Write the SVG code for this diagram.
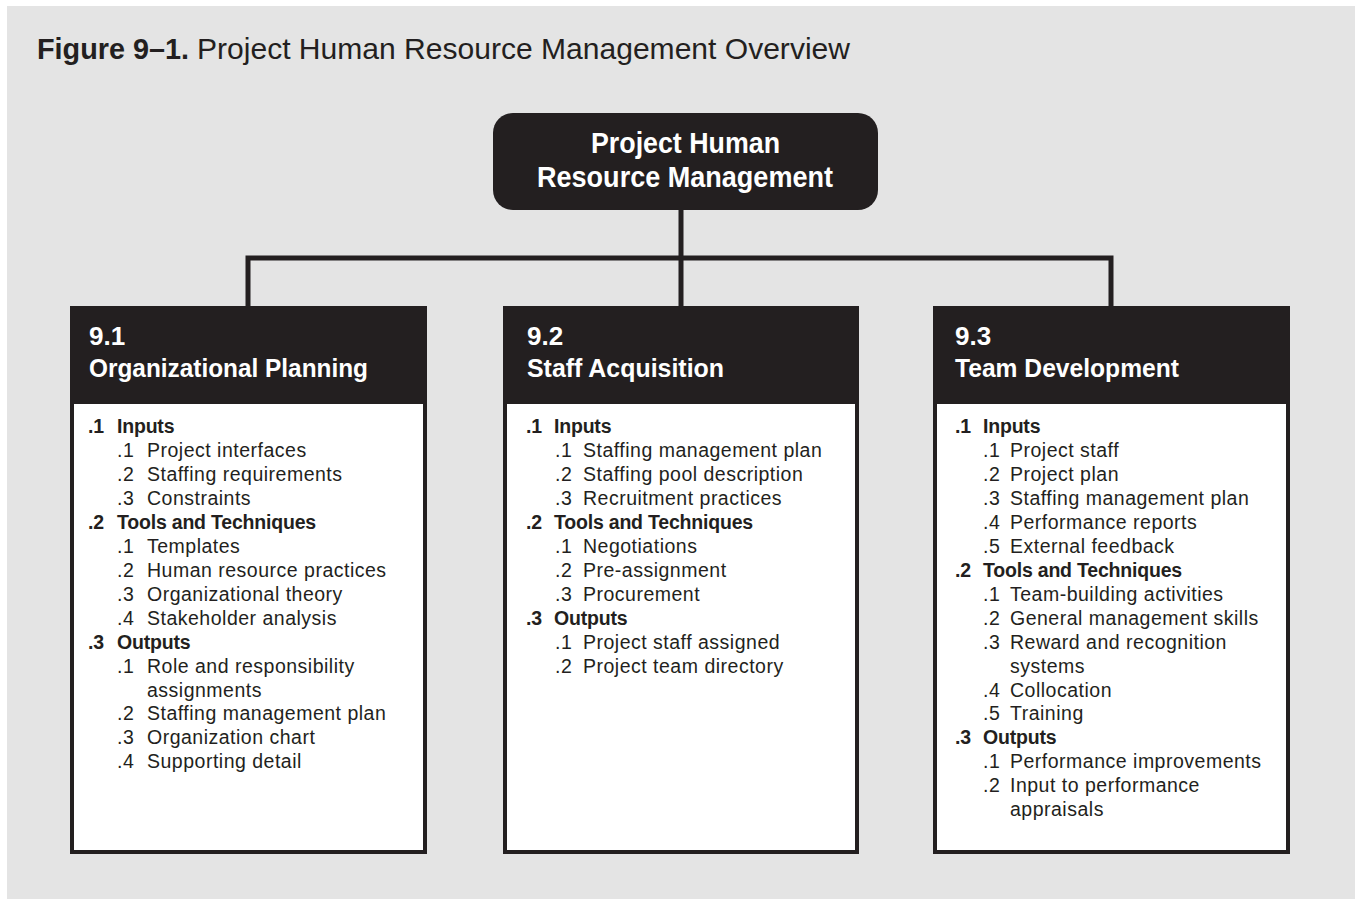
<svg xmlns="http://www.w3.org/2000/svg" width="1355" height="899" viewBox="0 0 1355 899">
<style>
.bg{fill:#e4e4e4}
.dark{fill:#231f20}
.inner{fill:#ffffff}
.conn{fill:none;stroke:#231f20;stroke-width:5}
.title{font-family:"Liberation Sans",Arial,sans-serif;font-size:30px;fill:#231f20}
.hd{font-family:"Liberation Sans Narrow","Liberation Sans",Arial,sans-serif;font-weight:bold;fill:#ffffff}
.top{font-size:29px}
.box{font-size:26px}
.r{font-family:"Liberation Sans",Arial,sans-serif;font-size:19.5px;letter-spacing:0.5px;fill:#231f20}
.b{font-family:"Liberation Sans",Arial,sans-serif;font-size:19.5px;font-weight:bold;letter-spacing:-0.2px;fill:#231f20}
</style>
<rect class="bg" x="7" y="6" width="1348" height="893"/>
<g id="title">
<text class="title" x="37" y="59" font-weight="bold" textLength="152" lengthAdjust="spacingAndGlyphs">Figure 9–1.</text>
<text class="title" x="197" y="59" textLength="653" lengthAdjust="spacingAndGlyphs">Project Human Resource Management Overview</text>
</g>
<g id="connectors">
<path class="conn" d="M681,210 V306"/>
<path class="conn" d="M248,306 V258 H1111 V306"/>
</g>
<g id="root">
<rect class="dark" x="493" y="113" width="385" height="97" rx="20" ry="20"/>
<text class="hd top" x="591" y="153" textLength="189" lengthAdjust="spacingAndGlyphs">Project Human</text>
<text class="hd top" x="537" y="187" textLength="296" lengthAdjust="spacingAndGlyphs">Resource Management</text>
</g>
<g id="n91">
<rect class="dark" x="70" y="306" width="357" height="548"/>
<rect class="inner" x="74" y="404" width="349" height="446"/>
<text class="hd box" x="89" y="345">9.1</text>
<text class="hd box" x="89" y="377" textLength="279" lengthAdjust="spacingAndGlyphs">Organizational Planning</text>
<text class="b" x="88" y="433">.1</text><text class="b" x="117" y="433">Inputs</text>
<text class="r" x="117" y="457">.1</text><text class="r" x="147" y="457">Project interfaces</text>
<text class="r" x="117" y="481">.2</text><text class="r" x="147" y="481">Staffing requirements</text>
<text class="r" x="117" y="505">.3</text><text class="r" x="147" y="505">Constraints</text>
<text class="b" x="88" y="529">.2</text><text class="b" x="117" y="529">Tools and Techniques</text>
<text class="r" x="117" y="553">.1</text><text class="r" x="147" y="553">Templates</text>
<text class="r" x="117" y="577">.2</text><text class="r" x="147" y="577">Human resource practices</text>
<text class="r" x="117" y="601">.3</text><text class="r" x="147" y="601">Organizational theory</text>
<text class="r" x="117" y="625">.4</text><text class="r" x="147" y="625">Stakeholder analysis</text>
<text class="b" x="88" y="649">.3</text><text class="b" x="117" y="649">Outputs</text>
<text class="r" x="117" y="673">.1</text><text class="r" x="147" y="673">Role and responsibility</text>
<text class="r" x="147" y="697">assignments</text>
<text class="r" x="117" y="720">.2</text><text class="r" x="147" y="720">Staffing management plan</text>
<text class="r" x="117" y="744">.3</text><text class="r" x="147" y="744">Organization chart</text>
<text class="r" x="117" y="768">.4</text><text class="r" x="147" y="768">Supporting detail</text>
</g>
<g id="n92">
<rect class="dark" x="503" y="306" width="356" height="548"/>
<rect class="inner" x="507" y="404" width="348" height="446"/>
<text class="hd box" x="527" y="345">9.2</text>
<text class="hd box" x="527" y="377" textLength="197" lengthAdjust="spacingAndGlyphs">Staff Acquisition</text>
<text class="b" x="526" y="433">.1</text><text class="b" x="554" y="433">Inputs</text>
<text class="r" x="555" y="457">.1</text><text class="r" x="583" y="457">Staffing management plan</text>
<text class="r" x="555" y="481">.2</text><text class="r" x="583" y="481">Staffing pool description</text>
<text class="r" x="555" y="505">.3</text><text class="r" x="583" y="505">Recruitment practices</text>
<text class="b" x="526" y="529">.2</text><text class="b" x="554" y="529">Tools and Techniques</text>
<text class="r" x="555" y="553">.1</text><text class="r" x="583" y="553">Negotiations</text>
<text class="r" x="555" y="577">.2</text><text class="r" x="583" y="577">Pre-assignment</text>
<text class="r" x="555" y="601">.3</text><text class="r" x="583" y="601">Procurement</text>
<text class="b" x="526" y="625">.3</text><text class="b" x="554" y="625">Outputs</text>
<text class="r" x="555" y="649">.1</text><text class="r" x="583" y="649">Project staff assigned</text>
<text class="r" x="555" y="673">.2</text><text class="r" x="583" y="673">Project team directory</text>
</g>
<g id="n93">
<rect class="dark" x="933" y="306" width="357" height="548"/>
<rect class="inner" x="937" y="404" width="349" height="446"/>
<text class="hd box" x="955" y="345">9.3</text>
<text class="hd box" x="955" y="377" textLength="224" lengthAdjust="spacingAndGlyphs">Team Development</text>
<text class="b" x="955" y="433">.1</text><text class="b" x="983" y="433">Inputs</text>
<text class="r" x="983" y="457">.1</text><text class="r" x="1010" y="457">Project staff</text>
<text class="r" x="983" y="481">.2</text><text class="r" x="1010" y="481">Project plan</text>
<text class="r" x="983" y="505">.3</text><text class="r" x="1010" y="505">Staffing management plan</text>
<text class="r" x="983" y="529">.4</text><text class="r" x="1010" y="529">Performance reports</text>
<text class="r" x="983" y="553">.5</text><text class="r" x="1010" y="553">External feedback</text>
<text class="b" x="955" y="577">.2</text><text class="b" x="983" y="577">Tools and Techniques</text>
<text class="r" x="983" y="601">.1</text><text class="r" x="1010" y="601">Team-building activities</text>
<text class="r" x="983" y="625">.2</text><text class="r" x="1010" y="625">General management skills</text>
<text class="r" x="983" y="649">.3</text><text class="r" x="1010" y="649">Reward and recognition</text>
<text class="r" x="1010" y="673">systems</text>
<text class="r" x="983" y="697">.4</text><text class="r" x="1010" y="697">Collocation</text>
<text class="r" x="983" y="720">.5</text><text class="r" x="1010" y="720">Training</text>
<text class="b" x="955" y="744">.3</text><text class="b" x="983" y="744">Outputs</text>
<text class="r" x="983" y="768">.1</text><text class="r" x="1010" y="768">Performance improvements</text>
<text class="r" x="983" y="792">.2</text><text class="r" x="1010" y="792">Input to performance</text>
<text class="r" x="1010" y="816">appraisals</text>
</g>
</svg>
